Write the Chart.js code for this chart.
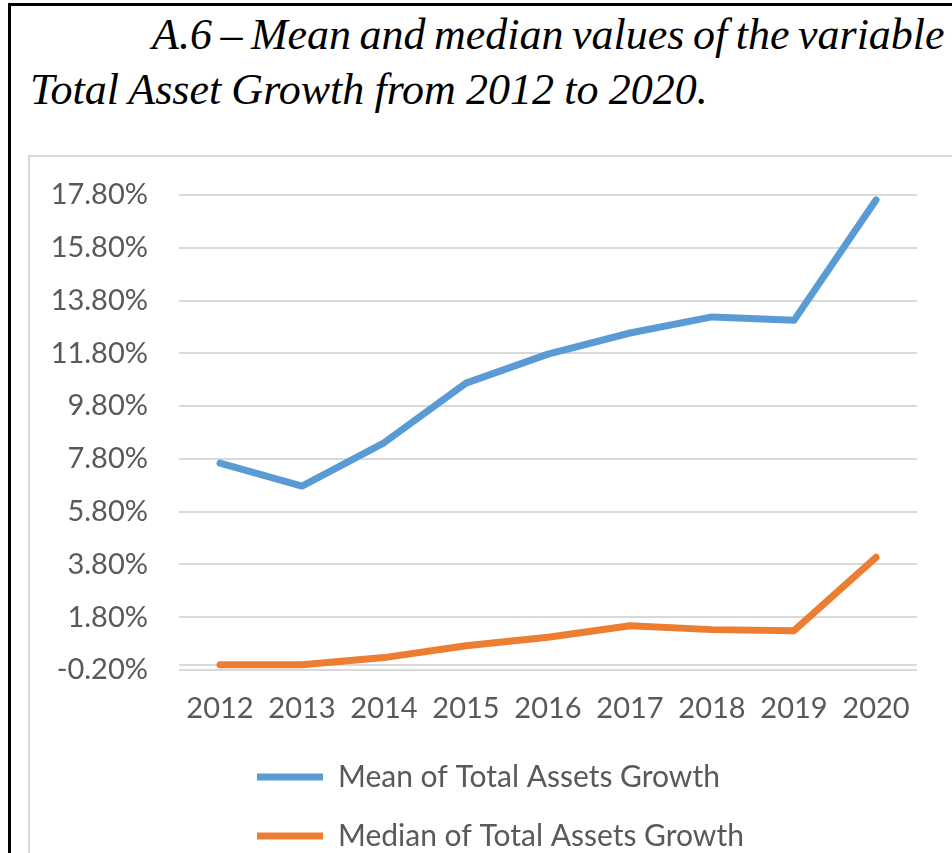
<!DOCTYPE html>
<html lang="en">
<head>
  <meta charset="UTF-8" />
  <title>Total Asset Growth 2012-2020</title>
  <script src="https://cdn.jsdelivr.net/npm/chart.js"></script>
  <style>
    html, body {
      margin: 0;
      padding: 0;
      background: #fff;
      overflow: hidden;
      width: 952px;
      height: 853px;
    }
    .page {
      position: absolute;
      left: 8px;
      top: 3px;
      width: 1000px;
      height: 900px;
      border: 3px solid #000;
    }
    .title {
      position: absolute;
      left: 30px;
      top: 7px;
      font-family: "Liberation Serif", "Times New Roman", serif;
      font-style: italic;
      font-size: 44px;
      line-height: 55px;
      color: #000;
      white-space: nowrap;
      word-spacing: -0.8px;
    }
    .title .first {
      padding-left: 122px;
      word-spacing: -2.5px;
    }
    .chartBox {
      position: absolute;
      left: 28px;
      top: 155px;
      width: 1000px;
      height: 800px;
      border: 2px solid #d9d9d9;
    }
    .chartWrap {
      position: absolute;
      left: 0;
      top: 157px;
      width: 952px;
      height: 704px;
    }
  </style>
</head>
<body>

<div class="page"></div>
<div class="chartBox"></div>
<div class="title">
  <span class="first">A.6 – Mean and median values of the variable</span><br>
  Total Asset Growth from 2012 to 2020.
</div>

<div class="chartWrap">
  <canvas id="growthChart"></canvas>
</div>

<script>
  const years = ['2012', '2013', '2014', '2015', '2016', '2017', '2018', '2019', '2020'];

  // values in percent
  const meanGrowth = [7.64, 6.77, 8.41, 10.67, 11.77, 12.57, 13.18, 13.05, 17.61];
  const medianGrowth = [0.00, 0.00, 0.27, 0.72, 1.04, 1.48, 1.33, 1.29, 4.07];

  const yMin = -0.2;
  const yMax = 17.8;
  const yStep = 2;

  const textGrey = '#595959';
  const gridGrey = '#d9d9d9';

  // push the legend rows to the right so both start at the same x
  const legendShift = {
    id: 'legendShift',
    afterLayout(chart) {
      const lg = chart.legend;
      const w = lg.right - lg.left;
      lg.left = 228;
      lg.right = 228 + w;
    }
  };

  new Chart(document.getElementById('growthChart').getContext('2d'), {
    type: 'line',
    data: {
      labels: years,
      datasets: [
        {
          label: 'Mean of Total Assets Growth',
          data: meanGrowth,
          borderColor: '#5b9bd5',
          backgroundColor: '#5b9bd5',
          borderWidth: 7,
          borderCapStyle: 'round',
          borderJoinStyle: 'round',
          pointRadius: 0,
          tension: 0,
          fill: false
        },
        {
          label: 'Median of Total Assets Growth',
          data: medianGrowth,
          borderColor: '#ed7d31',
          backgroundColor: '#ed7d31',
          borderWidth: 7,
          borderCapStyle: 'round',
          borderJoinStyle: 'round',
          pointRadius: 0,
          tension: 0,
          fill: false
        }
      ]
    },
    options: {
      responsive: true,
      maintainAspectRatio: false,
      animation: false,
      layout: { padding: { top: 38, right: 35, left: 0, bottom: 0 } },
      plugins: {
        title: { display: false },
        tooltip: { enabled: false },
        legend: {
          position: 'bottom',
          align: 'start',
          labels: {
            usePointStyle: true,
            pointStyle: 'line',
            pointStyleWidth: 66,
            padding: 29,
            color: textGrey,
            font: { family: 'Lato', size: 30 }
          }
        }
      },
      scales: {
        x: {
          offset: true,
          grid: { display: false },
          border: { display: false },
          ticks: {
            color: textGrey,
            padding: 13,
            maxRotation: 0,
            font: { family: 'Lato', size: 29 }
          },
          afterFit(scale) { scale.height = 63; }
        },
        y: {
          min: yMin,
          max: yMax,
          grid: {
            color: gridGrey,
            lineWidth: 2,
            drawTicks: true,
            tickLength: 31,
            tickColor: 'rgba(0,0,0,0)'
          },
          border: { display: false },
          ticks: {
            stepSize: yStep,
            autoSkip: false,
            padding: 0,
            color: textGrey,
            font: { family: 'Lato', size: 29 },
            callback: (v) => (v === 0 ? '' : v.toFixed(2) + '%')
          },
          // extra line where the horizontal axis crosses at 0
          afterBuildTicks(scale) {
            scale.ticks.push({ value: 0 });
            scale.ticks.sort((a, b) => a.value - b.value);
          },
          afterFit(scale) { scale.width = 179; }
        }
      }
    },
    plugins: [legendShift]
  });
</script>

</body>
</html>
